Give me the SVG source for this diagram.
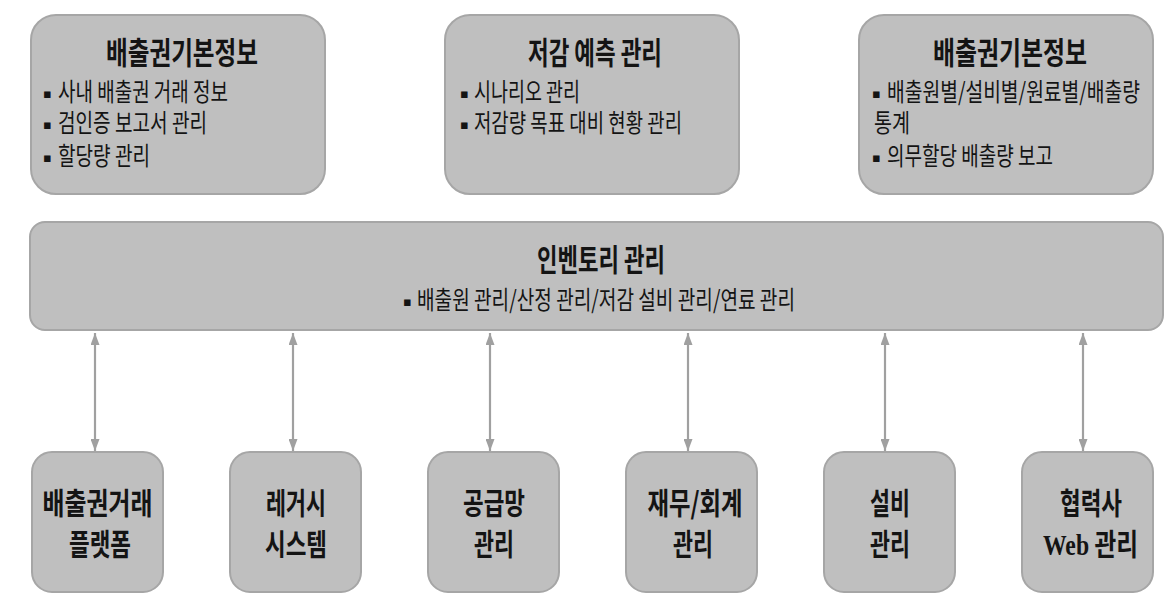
<svg xmlns="http://www.w3.org/2000/svg" width="1176" height="603" viewBox="0 0 1176 603">
<style>
.box{fill:#bfbfbf;stroke:#a6a6a6;stroke-width:2}
.t{font-family:"Noto Sans CJK KR","Noto Sans",sans-serif;fill:#141414}
.h{font-size:31px;font-weight:700}
.b{font-size:25px;font-weight:400}
.n{font-size:30px;font-weight:700}
.w{font-family:"Liberation Serif",serif;font-weight:700}
.c{stroke:#a0a0a0;stroke-width:2.2;fill:none}
.blt{font-family:"DejaVu Sans",sans-serif;font-size:13px;fill:#141414}
</style>
<defs>
<marker id="ah" viewBox="0 0 10 10" refX="10" refY="5" markerWidth="12" markerHeight="9" preserveAspectRatio="none" orient="auto-start-reverse" markerUnits="userSpaceOnUse">
<path d="M0,0 L10,5 L0,10 z" fill="#a0a0a0"/>
</marker>
</defs>
<rect width="1176" height="603" fill="#ffffff"/>

<g id="top1">
<rect class="box" x="31" y="15" width="294" height="179" rx="25"/>
<text class="t h" x="106" y="64" textLength="152" lengthAdjust="spacingAndGlyphs">배출권기본정보</text>
<text class="blt" x="43" y="98">▪</text>
<text class="t b" x="58" y="101" textLength="170" lengthAdjust="spacingAndGlyphs">사내 배출권 거래 정보</text>
<text class="blt" x="43" y="129">▪</text>
<text class="t b" x="58" y="132" textLength="149" lengthAdjust="spacingAndGlyphs">검인증 보고서 관리</text>
<text class="blt" x="43" y="162">▪</text>
<text class="t b" x="58" y="165" textLength="92" lengthAdjust="spacingAndGlyphs">할당량 관리</text>
</g>

<g id="top2">
<rect class="box" x="445" y="15" width="294" height="179" rx="25"/>
<text class="t h" x="528" y="64" textLength="134" lengthAdjust="spacingAndGlyphs">저감 예측 관리</text>
<text class="blt" x="460" y="98">▪</text>
<text class="t b" x="474" y="101" textLength="106" lengthAdjust="spacingAndGlyphs">시나리오 관리</text>
<text class="blt" x="460" y="129">▪</text>
<text class="t b" x="474" y="132" textLength="208" lengthAdjust="spacingAndGlyphs">저감량 목표 대비 현황 관리</text>
</g>

<g id="top3">
<rect class="box" x="859" y="15" width="294" height="179" rx="25"/>
<text class="t h" x="933" y="64" textLength="154" lengthAdjust="spacingAndGlyphs">배출권기본정보</text>
<text class="blt" x="872" y="98">▪</text>
<text class="t b" x="887" y="101" textLength="253" lengthAdjust="spacingAndGlyphs">배출원별/설비별/원료별/배출량</text>
<text class="t b" x="874" y="132" textLength="36" lengthAdjust="spacingAndGlyphs">통계</text>
<text class="blt" x="872" y="162">▪</text>
<text class="t b" x="887" y="165" textLength="166" lengthAdjust="spacingAndGlyphs">의무할당 배출량 보고</text>
</g>

<g id="inventory">
<rect class="box" x="30" y="222" width="1133" height="108" rx="15"/>
<text class="t h" x="537" y="271" textLength="128" lengthAdjust="spacingAndGlyphs">인벤토리 관리</text>
<text class="blt" x="403" y="306">▪</text>
<text class="t b" x="417" y="309" textLength="378" lengthAdjust="spacingAndGlyphs">배출원 관리/산정 관리/저감 설비 관리/연료 관리</text>
</g>

<g id="connectors">
<line class="c" x1="95" y1="333" x2="95" y2="451" marker-start="url(#ah)" marker-end="url(#ah)"/>
<line class="c" x1="293" y1="333" x2="293" y2="451" marker-start="url(#ah)" marker-end="url(#ah)"/>
<line class="c" x1="490" y1="333" x2="490" y2="451" marker-start="url(#ah)" marker-end="url(#ah)"/>
<line class="c" x1="688" y1="333" x2="688" y2="451" marker-start="url(#ah)" marker-end="url(#ah)"/>
<line class="c" x1="885" y1="333" x2="885" y2="451" marker-start="url(#ah)" marker-end="url(#ah)"/>
<line class="c" x1="1083" y1="333" x2="1083" y2="451" marker-start="url(#ah)" marker-end="url(#ah)"/>
</g>

<g id="b1">
<rect class="box" x="32" y="452" width="131" height="140" rx="20"/>
<text class="t n" x="97.5" y="514" text-anchor="middle" textLength="110" lengthAdjust="spacingAndGlyphs">배출권거래</text>
<text class="t n" x="100" y="555" text-anchor="middle" textLength="62" lengthAdjust="spacingAndGlyphs">플랫폼</text>
</g>
<g id="b2">
<rect class="box" x="230" y="452" width="131" height="140" rx="20"/>
<text class="t n" x="296" y="514" text-anchor="middle" textLength="60" lengthAdjust="spacingAndGlyphs">레거시</text>
<text class="t n" x="296" y="555" text-anchor="middle" textLength="62" lengthAdjust="spacingAndGlyphs">시스템</text>
</g>
<g id="b3">
<rect class="box" x="428" y="452" width="131" height="140" rx="20"/>
<text class="t n" x="494" y="514" text-anchor="middle" textLength="62" lengthAdjust="spacingAndGlyphs">공급망</text>
<text class="t n" x="494" y="555" text-anchor="middle" textLength="40" lengthAdjust="spacingAndGlyphs">관리</text>
</g>
<g id="b4">
<rect class="box" x="626" y="452" width="131" height="140" rx="20"/>
<text class="t n" x="695" y="514" text-anchor="middle" textLength="95" lengthAdjust="spacingAndGlyphs">재무/회계</text>
<text class="t n" x="693" y="555" text-anchor="middle" textLength="40" lengthAdjust="spacingAndGlyphs">관리</text>
</g>
<g id="b5">
<rect class="box" x="824" y="452" width="131" height="140" rx="20"/>
<text class="t n" x="890" y="514" text-anchor="middle" textLength="40" lengthAdjust="spacingAndGlyphs">설비</text>
<text class="t n" x="890" y="555" text-anchor="middle" textLength="40" lengthAdjust="spacingAndGlyphs">관리</text>
</g>
<g id="b6">
<rect class="box" x="1022" y="452" width="131" height="140" rx="20"/>
<text class="t n" x="1091" y="514" text-anchor="middle" textLength="62" lengthAdjust="spacingAndGlyphs">협력사</text>
<text class="t n" x="1090.5" y="555" text-anchor="middle" textLength="95" lengthAdjust="spacingAndGlyphs"><tspan class="w">Web</tspan> 관리</text>
</g>
</svg>
